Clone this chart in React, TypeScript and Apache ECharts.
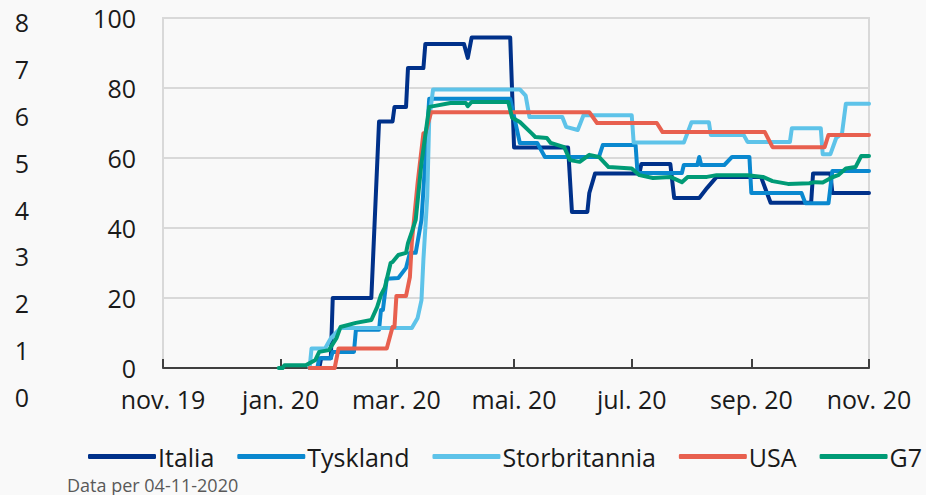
import React, { useEffect, useRef } from "react";
import * as echarts from "echarts";

const tickDates = ["2019-11-01", "2020-01-01", "2020-03-01", "2020-05-01", "2020-07-01", "2020-09-01", "2020-11-01"];
const tickLabels = ["nov. 19", "jan. 20", "mar. 20", "mai. 20", "jul. 20", "sep. 20", "nov. 20"];
const seriesNames = ["Italia", "Tyskland", "Storbritannia", "USA", "G7"];
const seriesColors = ["#00318a", "#0a88cf", "#5ec3e9", "#e8604f", "#009b76"];
const sourceText = "Data per 04-11-2020";

const italia: [string, number][] = [
  ["2020-01-16", 0], ["2020-01-21", 0], ["2020-01-22", 2.8], ["2020-01-27", 2.8], ["2020-01-28", 20],
  ["2020-02-17", 20], ["2020-02-21", 70.4], ["2020-02-28", 70.4], ["2020-02-29", 74.6], ["2020-03-06", 74.6],
  ["2020-03-07", 85.7], ["2020-03-15", 85.7], ["2020-03-16", 92.6], ["2020-04-05", 92.6], ["2020-04-07", 88.6],
  ["2020-04-09", 94.4], ["2020-04-29", 94.4], ["2020-05-01", 63], ["2020-05-29", 63], ["2020-05-31", 44.6],
  ["2020-06-08", 44.6], ["2020-06-09", 50], ["2020-06-12", 55.6], ["2020-07-05", 55.6], ["2020-07-06", 58.3],
  ["2020-07-21", 58.3], ["2020-07-23", 48.6], ["2020-08-05", 48.6], ["2020-08-09", 51.4], ["2020-08-14", 54.6],
  ["2020-09-06", 54.6], ["2020-09-11", 47.2], ["2020-10-02", 47.2], ["2020-10-03", 55.6], ["2020-10-12", 55.6],
  ["2020-10-13", 50], ["2020-11-01", 50],
];

const tyskland: [string, number][] = [
  ["2020-01-16", 0], ["2020-01-20", 0], ["2020-01-21", 2.8], ["2020-01-27", 2.8], ["2020-01-28", 4.6],
  ["2020-02-08", 4.6], ["2020-02-09", 10.9], ["2020-02-21", 10.9], ["2020-02-22", 16.6], ["2020-02-23", 16.6],
  ["2020-02-25", 25.5], ["2020-03-02", 25.7], ["2020-03-06", 28.6], ["2020-03-08", 32.9], ["2020-03-11", 32.9],
  ["2020-03-14", 42.3], ["2020-03-16", 59.4], ["2020-03-18", 76.9], ["2020-04-29", 76.9], ["2020-05-04", 64.3],
  ["2020-05-13", 64.3], ["2020-05-17", 60.3], ["2020-06-14", 60.3], ["2020-06-16", 63.7], ["2020-07-03", 63.7],
  ["2020-07-04", 55.7], ["2020-07-27", 55.7], ["2020-07-28", 58], ["2020-08-04", 58], ["2020-08-05", 60.3],
  ["2020-08-06", 58], ["2020-08-18", 58], ["2020-08-22", 60.3], ["2020-08-31", 60.3], ["2020-09-01", 50],
  ["2020-09-27", 50], ["2020-09-29", 47.1], ["2020-10-11", 47.1], ["2020-10-13", 56.3], ["2020-11-01", 56.3],
];

const storbritannia: [string, number][] = [
  ["2020-01-16", 0], ["2020-01-17", 5.6], ["2020-01-24", 5.6], ["2020-01-27", 8.5], ["2020-02-01", 11.4],
  ["2020-03-09", 11.4], ["2020-03-12", 14.3], ["2020-03-14", 19.4], ["2020-03-15", 31], ["2020-03-17", 49],
  ["2020-03-18", 71], ["2020-03-20", 79.6], ["2020-05-04", 79.6], ["2020-05-07", 77.8], ["2020-05-09", 71.7],
  ["2020-05-26", 71.7], ["2020-05-28", 68.9], ["2020-06-03", 68], ["2020-06-06", 72.2], ["2020-07-01", 72.2],
  ["2020-07-02", 64.4], ["2020-07-28", 64.4], ["2020-08-01", 70.2], ["2020-08-10", 70.2], ["2020-08-11", 66.6],
  ["2020-08-28", 66.6], ["2020-08-30", 64.6], ["2020-09-21", 64.6], ["2020-09-22", 68.5], ["2020-10-07", 68.5],
  ["2020-10-08", 61.1], ["2020-10-12", 61.1], ["2020-10-15", 65.7], ["2020-10-18", 67], ["2020-10-20", 75.5],
  ["2020-11-01", 75.5],
];

const usa: [string, number][] = [
  ["2020-01-16", 0], ["2020-01-29", 0], ["2020-01-31", 5.6], ["2020-02-25", 5.6], ["2020-02-28", 11.7],
  ["2020-02-29", 11.7], ["2020-03-01", 20.6], ["2020-03-06", 20.6], ["2020-03-08", 26], ["2020-03-09", 36],
  ["2020-03-12", 52.9], ["2020-03-15", 67.1], ["2020-03-16", 67.1], ["2020-03-19", 73.1], ["2020-06-09", 73.1],
  ["2020-06-13", 70], ["2020-07-14", 70], ["2020-07-17", 67.4], ["2020-09-08", 67.4], ["2020-09-12", 63.1],
  ["2020-10-09", 63.1], ["2020-10-11", 66.6], ["2020-11-01", 66.6],
];

const g7: [string, number][] = [
  ["2019-12-31", 0], ["2020-01-02", 0], ["2020-01-03", 0.8], ["2020-01-14", 0.8], ["2020-01-19", 2.3],
  ["2020-01-21", 4.6], ["2020-01-26", 5.1], ["2020-01-30", 8.6], ["2020-02-01", 11.7], ["2020-02-09", 12.9],
  ["2020-02-17", 13.7], ["2020-02-20", 17.4], ["2020-02-22", 20.9], ["2020-02-24", 23], ["2020-02-27", 30],
  ["2020-02-28", 30.3], ["2020-03-02", 32.3], ["2020-03-06", 32.9], ["2020-03-07", 35.7], ["2020-03-09", 38.9],
  ["2020-03-11", 42.3], ["2020-03-14", 58.6], ["2020-03-18", 74.6], ["2020-03-21", 74.9], ["2020-03-29", 75.7],
  ["2020-04-06", 75.7], ["2020-04-07", 74.8], ["2020-04-09", 76], ["2020-04-28", 76], ["2020-04-30", 71.5],
  ["2020-05-04", 70.3], ["2020-05-10", 67.1], ["2020-05-12", 66], ["2020-05-18", 65.7], ["2020-05-20", 64.3],
  ["2020-05-27", 63.1], ["2020-05-30", 59.4], ["2020-06-04", 58.9], ["2020-06-09", 60.9], ["2020-06-14", 60.3],
  ["2020-06-19", 57.4], ["2020-07-01", 57], ["2020-07-05", 55.1], ["2020-07-12", 54.3], ["2020-07-21", 54.6],
  ["2020-07-27", 53.1], ["2020-07-30", 54.6], ["2020-08-09", 54.6], ["2020-08-14", 55.1], ["2020-08-30", 55.1],
  ["2020-09-07", 54.6], ["2020-09-12", 53.4], ["2020-09-20", 52.6], ["2020-10-01", 52.8], ["2020-10-04", 53.1],
  ["2020-10-08", 53], ["2020-10-13", 54.5], ["2020-10-16", 55.1], ["2020-10-20", 57], ["2020-10-25", 57.4],
  ["2020-10-28", 60.6], ["2020-11-01", 60.6],
];

const allSeries = [italia, tyskland, storbritannia, usa, g7];

const FONT = "'Open Sans', 'Noto Sans', sans-serif";
const TEXT = "#1a1a1a";

export default function App() {
  const ref = useRef<HTMLDivElement>(null);

  useEffect(() => {
    if (!ref.current) return;
    const chart = echarts.init(ref.current, undefined, { renderer: "svg" });
    const toTs = (d: string) => new Date(d + "T00:00:00Z").getTime();
    const tickTs = tickDates.map(toTs);

    const option: any = {
      animation: false,
      backgroundColor: "#f9f9f9",
      textStyle: { fontFamily: FONT },
      grid: [
        {
          left: 163, right: 57, top: 18, bottom: 127,
          show: true, borderColor: "#d9d9d9", borderWidth: 2, backgroundColor: "transparent",
        },
        { left: 37, width: 10, top: 22, bottom: 98 },
      ],
      xAxis: [
        {
          type: "value",
          gridIndex: 0,
          min: tickTs[0],
          max: tickTs[tickTs.length - 1],
          axisLine: { show: true, onZero: false, lineStyle: { color: "#404040", width: 2 } },
          axisTick: { show: true, inside: true, length: 9, customValues: tickTs, lineStyle: { color: "#404040", width: 2 } },
          splitLine: { show: false },
          axisLabel: {
            customValues: tickTs,
            fontSize: 25,
            color: TEXT,
            fontFamily: FONT,
            margin: 18,
            hideOverlap: false,
            showMinLabel: true,
            showMaxLabel: true,
            formatter: (v: number) => {
              let best = 0;
              for (let i = 1; i < tickTs.length; i++) {
                if (Math.abs(tickTs[i] - v) < Math.abs(tickTs[best] - v)) best = i;
              }
              return tickLabels[best];
            },
          },
        },
        { type: "value", gridIndex: 1, show: false, min: 0, max: 1 },
      ],
      yAxis: [
        {
          type: "value",
          gridIndex: 0,
          min: 0,
          max: 100,
          interval: 20,
          axisLine: { show: false },
          axisTick: { show: false },
          splitLine: { show: true, lineStyle: { color: "#d9d9d9", width: 2 } },
          axisLabel: { fontSize: 25, color: TEXT, fontFamily: FONT, margin: 27 },
        },
        {
          type: "value",
          gridIndex: 1,
          min: 0,
          max: 8,
          interval: 1,
          axisLine: { show: false },
          axisTick: { show: false },
          splitLine: { show: false },
          axisLabel: { fontSize: 25, color: TEXT, fontFamily: FONT, margin: 8 },
        },
      ],
      legend: {
        left: 88,
        top: 444,
        padding: 0,
        icon: "roundRect",
        itemWidth: 68,
        itemHeight: 5,
        itemGap: 23,
        textStyle: { fontSize: 25, color: TEXT, fontFamily: FONT, padding: [0, 0, 0, -3] },
        data: seriesNames,
      },
      graphic: [
        {
          type: "text",
          x: 67,
          y: 485,
          style: { text: sourceText, fontSize: 18, fill: "#595959", fontFamily: FONT, verticalAlign: "middle" },
        },
      ],
      series: allSeries.map((arr, i) => ({
        name: seriesNames[i],
        type: "line",
        xAxisIndex: 0,
        yAxisIndex: 0,
        showSymbol: false,
        symbol: "none",
        color: seriesColors[i],
        lineStyle: { width: 4, color: seriesColors[i], cap: "round", join: "round" },
        data: arr.map(([d, v]) => [toTs(d), v]),
      })),
    };

    chart.setOption(option);
    return () => chart.dispose();
  }, []);

  return (
    <div
      ref={ref}
      style={{ position: "fixed", left: 0, top: 0, width: 926, height: 495, background: "#f9f9f9" }}
    />
  );
}
